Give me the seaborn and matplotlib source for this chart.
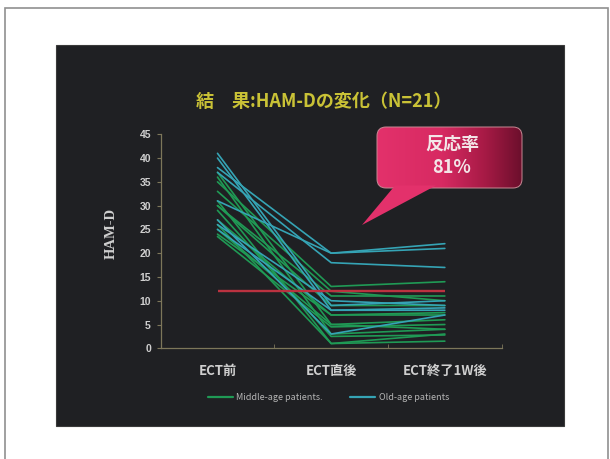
import pandas as pd
import matplotlib
matplotlib.use("Agg")
import matplotlib.pyplot as plt
import seaborn as sns
from matplotlib.lines import Line2D
from matplotlib.patches import Rectangle, FancyBboxPatch, Polygon
from matplotlib.colors import LinearSegmentedColormap
import numpy as np

# data (HAM-D per patient, 3 time points)
categories = ["ECT前", "ECT直後", "ECT終了1W後"]
groups = ["Middle-age patients.", "Old-age patients"]
patient_group = [1, 1, 1, 1, 1, 1, 1, 1,
                 0, 0, 0, 0, 0, 0, 0, 0, 0, 0, 0, 0, 0]
score_pre = [38, 31, 37, 41, 40, 27, 26, 25,
             35, 30, 30, 27, 25, 23.5, 36, 31, 26, 29, 37, 24, 33]
score_post = [20, 20, 18, 9, 8, 3, 10, 8,
              13, 11, 9, 7, 5, 4.5, 3, 1, 1, 2.5, 5, 7, 12]
score_1w = [22, 21, 17, 10, 8.5, 7, 9, 8,
            14, 11, 9, 7.5, 6, 5, 4, 3, 1.5, 2.8, 4, 7, 10]
cutoff = 12
title = "結　果:HAM-Dの変化（N=21）"
bubble_text = "反応率\n81%"

rows = []
for i in range(len(score_pre)):
    for j, vals in enumerate([score_pre, score_post, score_1w]):
        rows.append({"patient": i, "group": groups[patient_group[i]],
                     "pos": j, "score": vals[i]})
df = pd.DataFrame(rows)

sns.set_style("ticks")
plt.rcParams['font.family'] = ['Noto Sans CJK JP', 'DejaVu Sans']

palette = {groups[0]: "#1f9a55", groups[1]: "#35a4b5"}
text_col = "#cfcfcf"
axis_col = "#7d775a"

fig = plt.figure(figsize=(6.1, 4.59), dpi=100)
fig.patch.set_facecolor("white")
fig.patches.append(Rectangle((0.0082, -0.02), 0.9885, 1.0026, transform=fig.transFigure,
                             facecolor="white", edgecolor="#909090", lw=1.2, zorder=-3))
fig.patches.append(Rectangle((0.0918, 0.0719), 0.8328, 0.8301, transform=fig.transFigure,
                             facecolor="#1f2023", edgecolor="#3a3a3a", lw=0.8, zorder=-2))

ax = fig.add_axes([0.2634, 0.2412, 0.559, 0.4662])
ax.set_facecolor("none")
sns.lineplot(data=df, x="pos", y="score", hue="group", hue_order=groups,
             units="patient", estimator=None, palette=palette, lw=1.2,
             legend=False, ax=ax)
ax.hlines(cutoff, 0, 2, color="#bb3240", lw=1.7, zorder=5)

ax.set_xlim(-0.5, 2.5)
ax.set_ylim(0, 45)
ax.set_yticks(range(0, 46, 5))
ax.set_xticks(range(len(categories)))
ax.set_xticklabels(categories, fontsize=9.5, color=text_col, fontweight="bold")
ax.set_xticks([0.5, 1.5, 2.5], minor=True)
ax.tick_params(axis="x", which="major", length=0, pad=11)
ax.tick_params(axis="x", which="minor", length=3, direction="in", color=axis_col)
ax.tick_params(axis="y", length=3, color=axis_col, labelsize=7.5,
               labelcolor=text_col, pad=4)
for t in ax.get_yticklabels():
    t.set_fontfamily("Liberation Sans")
    t.set_fontweight("bold")
for s in ["top", "right"]:
    ax.spines[s].set_visible(False)
for s in ["left", "bottom"]:
    ax.spines[s].set_color(axis_col)
    ax.spines[s].set_linewidth(0.9)
ax.set_xlabel("")
ax.set_ylabel("HAM-D", fontsize=10.5, fontweight="bold", color=text_col,
              fontfamily="Liberation Serif")
ax.yaxis.set_label_coords(-0.125, 0.536)

handles = [Line2D([], [], color=palette[g], lw=1.6) for g in groups]
leg = ax.legend(handles, groups, ncol=2, loc="center", bbox_to_anchor=(0.492, -0.232),
                frameon=False, fontsize=6.5, handlelength=2.8, handletextpad=0.4,
                columnspacing=3)
for t in leg.get_texts():
    t.set_color("#b5b5b5")

fig.text(0.531, 0.778, title, ha="center", va="center", fontsize=13,
         color="#c9c236", fontweight="bold")

# speech bubble in pixel coordinates
ov = fig.add_axes([0, 0, 1, 1])
ov.set_facecolor("none")
ov.axis("off")
box = FancyBboxPatch((381, 131), 137, 53, boxstyle="round,pad=4,rounding_size=9",
                     facecolor="none", edgecolor="#c98a95", lw=0.7, zorder=3)
ov.add_patch(box)
cmap = LinearSegmentedColormap.from_list("bub", [(0, "#e3316b"), (0.45, "#d72a62"),
                                                 (0.75, "#a61a45"), (1, "#6c0f2c")])
grad = np.tile(np.linspace(0, 1, 200), (20, 1))
im = ov.imshow(grad, extent=(377, 522, 188, 127), cmap=cmap, aspect="auto", zorder=2)
im.set_clip_path(box)
ov.add_patch(Polygon([(395, 185.5), (362, 225), (436, 185.5)], closed=True,
                     facecolor="#e3316b", edgecolor="none", zorder=4))
ov.text(452, 156, bubble_text, ha="center", va="center", fontsize=13,
        color="#f3e6e8", fontweight="bold", linespacing=1.25, zorder=5)
ov.set_xlim(0, 610)
ov.set_ylim(459, 0)

fig.savefig("out.png", dpi=100)
